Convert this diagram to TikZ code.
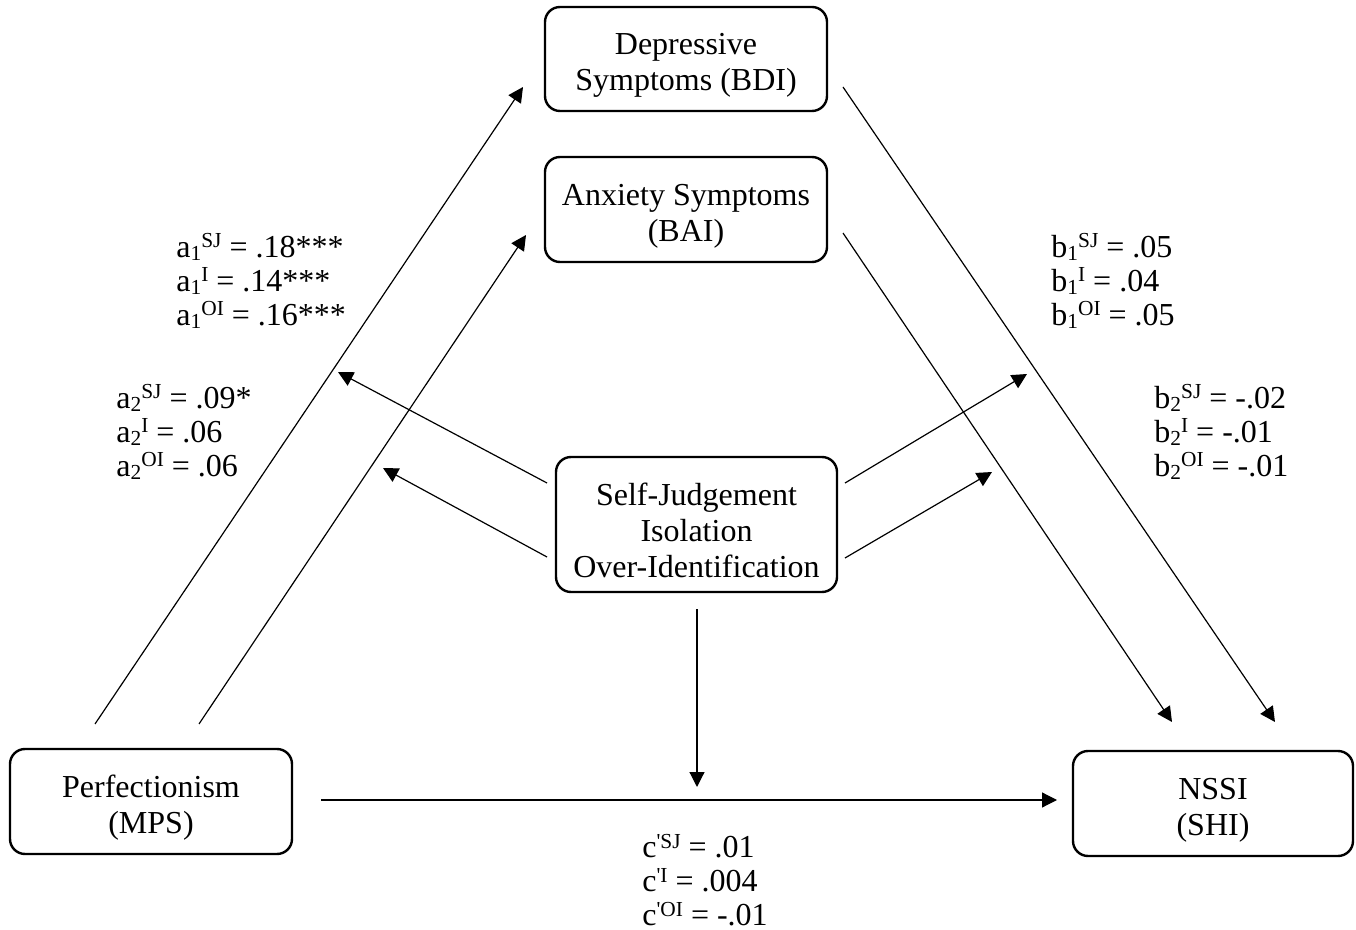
\documentclass[tikz,border=0pt]{standalone}
\usepackage{fontspec}
\setmainfont{Liberation Serif}
\usetikzlibrary{arrows.meta}
\newcommand{\subi}[1]{\raisebox{-0.1em}{\fontsize{10.7}{11}\selectfont #1}}
\newcommand{\supi}[1]{\raisebox{0.3em}{\fontsize{10.7}{11}\selectfont #1}}
\newcommand{\tgap}{\rule{0pt}{17pt}}
\begin{document}
\begin{tikzpicture}[x=0.5pt,y=-0.5pt,
	box/.style={draw,line width=1.2pt,rounded corners=7.5pt,align=center,inner sep=0pt,
		font=\fontsize{16}{18}\selectfont},
	lab/.style={anchor=west,inner sep=0pt,align=left,font=\fontsize{16}{17}\selectfont},
	arr/.style={line width=0.6pt,-{Triangle[length=7.5pt,width=7.5pt]}}]
	\useasboundingbox (0,0) rectangle (1356,930);
	% variables
	\node[box,minimum width=141pt,minimum height=52pt] (dep) at (686,59) {\tgap Depressive\\Symptoms (BDI)};
	\node[box,minimum width=141pt,minimum height=52.5pt] (anx) at (686,209.5) {\tgap Anxiety Symptoms\\(BAI)};
	\node[box,minimum width=140.5pt,minimum height=67.5pt] (sj) at (696.5,524.5) {\tgap Self-Judgement\\Isolation\\Over-Identification};
	\node[box,minimum width=141pt,minimum height=52.5pt] (perf) at (151,801.5) {\tgap Perfectionism\\(MPS)};
	\node[box,minimum width=140pt,minimum height=52.5pt] (nssi) at (1213,803.5) {\tgap NSSI\\(SHI)};
	% arrow ends
	\coordinate (pd1) at (95,724);   \coordinate (pd2) at (523,87);
	\coordinate (pa1) at (199,724);  \coordinate (pa2) at (526,235);
	\coordinate (dn1) at (843,87);   \coordinate (dn2) at (1275,722);
	\coordinate (an1) at (843,233);  \coordinate (an2) at (1172,722);
	\coordinate (sl1) at (547,483);  \coordinate (sl2) at (338,372);
	\coordinate (sk1) at (547,557);  \coordinate (sk2) at (383,468);
	\coordinate (sr1) at (845,483);  \coordinate (sr2) at (1027,374);
	\coordinate (sq1) at (845,558);  \coordinate (sq2) at (992,472);
	\coordinate (sd) at (697,787);
	\coordinate (pn1) at (321,800);  \coordinate (pn2) at (1057,800);
	% paths
	\draw[arr] (pd1) -- (pd2);
	\draw[arr] (pa1) -- (pa2);
	\draw[arr] (dn1) -- (dn2);
	\draw[arr] (an1) -- (an2);
	\draw[arr] (sl1) -- (sl2);
	\draw[arr] (sk1) -- (sk2);
	\draw[arr] (sr1) -- (sr2);
	\draw[arr] (sq1) -- (sq2);
	\draw[arr,shorten <=8pt] (sj.south -| sd) -- (sd);
	\draw[arr] (pn1) -- (pn2);
	% coefficients
	\node[lab] (a1) at (176,281) {a\subi{1}\supi{SJ} = .18***\\a\subi{1}\supi{I} = .14***\\a\subi{1}\supi{OI} = .16***};
	\node[lab] (a2) at (116,432) {a\subi{2}\supi{SJ} = .09*\\a\subi{2}\supi{I} = .06\\a\subi{2}\supi{OI} = .06};
	\node[lab] (b1) at (1051,281) {b\subi{1}\supi{SJ} = .05\\b\subi{1}\supi{I} = .04\\b\subi{1}\supi{OI} = .05};
	\node[lab] (b2) at (1154,432) {b\subi{2}\supi{SJ} = -.02\\b\subi{2}\supi{I} = -.01\\b\subi{2}\supi{OI} = -.01};
	\node[lab] (c) at (642,880) {c\supi{\textquotesingle SJ} = .01\\c\supi{\textquotesingle I} = .004\\c\supi{\textquotesingle OI} = -.01};
\end{tikzpicture}
\end{document}
